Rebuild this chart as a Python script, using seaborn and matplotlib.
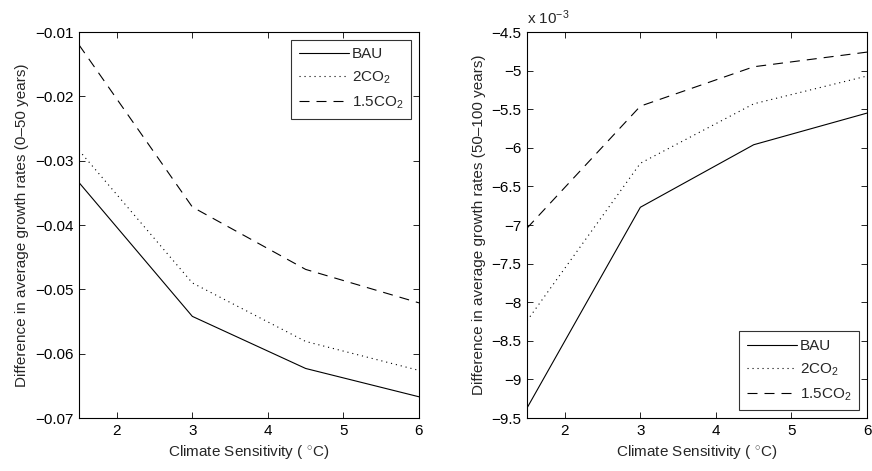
import matplotlib
matplotlib.use("Agg")
import matplotlib.pyplot as plt
import seaborn as sns
import pandas as pd
from matplotlib.ticker import FuncFormatter

sensitivity = [1.5, 3.0, 4.5, 6.0]
series_names = ["BAU", "2CO$_2$", "1.5CO$_2$"]

left_bau = [-0.0334, -0.0542, -0.0623, -0.0667]
left_2co2 = [-0.0284, -0.0490, -0.0581, -0.0626]
left_15co2 = [-0.0120, -0.0372, -0.0469, -0.0521]

right_bau = [-9.37e-3, -6.77e-3, -5.96e-3, -5.55e-3]
right_2co2 = [-8.24e-3, -6.20e-3, -5.43e-3, -5.07e-3]
right_15co2 = [-7.04e-3, -5.46e-3, -4.95e-3, -4.76e-3]

left_yticks = [-0.07, -0.06, -0.05, -0.04, -0.03, -0.02, -0.01]
right_yticks = [-9.5e-3, -9e-3, -8.5e-3, -8e-3, -7.5e-3, -7e-3, -6.5e-3,
                -6e-3, -5.5e-3, -5e-3, -4.5e-3]
xticks = [2, 3, 4, 5, 6]

sns.set_theme(style="white")
plt.rcParams['font.family'] = ['Liberation Sans', 'DejaVu Sans']
plt.rcParams['mathtext.fontset'] = 'custom'
plt.rcParams['mathtext.rm'] = 'Liberation Sans'
plt.rcParams['mathtext.it'] = 'Liberation Sans'

FS = 11

fig = plt.figure(figsize=(8.72, 4.71), dpi=100)
ax1 = fig.add_axes([0.0906, 0.1125, 0.3899, 0.8195])
ax2 = fig.add_axes([0.6044, 0.1125, 0.3899, 0.8195])

styles = ["-", (0, (1, 3.5)), (0, (9, 6.3))]

def make_df(vals):
    rows = []
    for name, v in zip(series_names, vals):
        for x, y in zip(sensitivity, v):
            rows.append({"x": x, "y": y, "series": name})
    return pd.DataFrame(rows)

for ax, vals in [(ax1, [left_bau, left_2co2, left_15co2]),
                 (ax2, [right_bau, right_2co2, right_15co2])]:
    df = make_df(vals)
    for name, ls in zip(series_names, styles):
        sub = df[df["series"] == name]
        sns.lineplot(data=sub, x="x", y="y", ax=ax, color="black",
                     linewidth=0.8, linestyle=ls, label=name, sort=False)
    ax.set_xlim(1.5, 6)
    ax.set_xticks(xticks)
    ax.set_xlabel("Climate Sensitivity ( $^{\\circ}$C)", fontsize=FS)
    for s in ax.spines.values():
        s.set_color("black")
        s.set_linewidth(0.8)
    ax.tick_params(direction="in", length=4, width=0.6, top=True, right=True,
                   bottom=True, left=True, labelsize=FS, colors="black", pad=4)

ax1.set_ylim(-0.07, -0.01)
ax1.set_yticks(left_yticks)
ax1.yaxis.set_major_formatter(FuncFormatter(lambda v, p: ("%g" % round(v, 4)).replace("-", "\u2212")))
ax1.set_ylabel("Difference in average growth rates (0\u201350 years)", fontsize=FS)

ax2.set_ylim(-9.5e-3, -4.5e-3)
ax2.set_yticks(right_yticks)
ax2.yaxis.set_major_formatter(FuncFormatter(lambda v, p: ("%g" % round(v * 1e3, 3)).replace("-", "\u2212")))
ax2.set_ylabel("Difference in average growth rates (50\u2013100 years)", fontsize=FS)
ax2.text(0.0, 1.012, "x 10$^{\\mathregular{\u22123}}$", transform=ax2.transAxes,
         fontsize=FS, ha="left", va="bottom")

for ax, loc in [(ax1, "upper right"), (ax2, "lower right")]:
    leg = ax.legend(loc=loc, fontsize=11, handlelength=3.3, frameon=True,
                    fancybox=False, edgecolor="black", borderpad=0.5,
                    labelspacing=0.55, handletextpad=0.2, borderaxespad=0.5)
    leg.get_frame().set_linewidth(0.8)

fig.savefig("out.png", dpi=100)
